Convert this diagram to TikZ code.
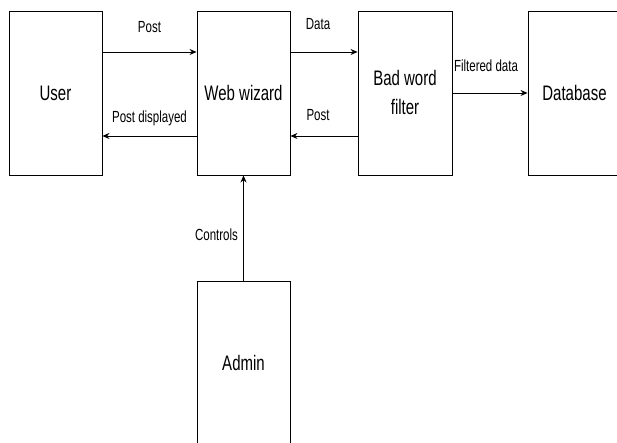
\documentclass[tikz,border=0pt]{standalone}
\usepackage{fontspec}
\usepackage{graphicx}
\setmainfont{Liberation Sans}
\usetikzlibrary{arrows.meta}
\newcommand{\tall}[1]{\scalebox{1}[1.4]{#1}}
\begin{document}
\begin{tikzpicture}[
  x=1pt, y=1pt,
  block/.style={rectangle, draw, line width=0.9pt, minimum width=93pt, minimum height=164pt,
    font=\fontsize{15}{29}\selectfont, align=center, inner sep=0pt},
  flow/.style={-{Stealth[length=7pt,width=6pt]}, line width=0.8pt},
  tag/.style={font=\fontsize{11.5}{13}\selectfont, inner sep=0pt}
]
  \useasboundingbox (0,0) rectangle (617,443);
  \node[block] (user) at (55.5,350) {\tall{User}};
  \node[block] (wizard) at (243.5,350) {\tall{Web wizard}};
  \node[block, minimum width=94pt] (filter) at (405,350) {\tall{Bad word}\\\tall{filter}};
  \node[block] (db) at (574.5,350) {\tall{Database}};
  \node[block] (admin) at (243.5,80) {\tall{Admin}};

  \draw[flow] ([yshift=41pt]user.east) -- node[tag, midway, yshift=25pt] {\tall{Post}} ([yshift=41pt]wizard.west);
  \draw[flow] ([yshift=-43pt]wizard.west) -- node[tag, midway, yshift=18pt] {\tall{Post displayed}} ([yshift=-43pt]user.east);
  \draw[flow] ([yshift=41pt]wizard.east) -- node[tag, midway, xshift=-6pt, yshift=28pt] {\tall{Data}} ([yshift=41pt]filter.west);
  \draw[flow] ([yshift=-43pt]filter.west) -- node[tag, midway, xshift=-6pt, yshift=21pt] {\tall{Post}} ([yshift=-43pt]wizard.east);
  \draw[flow] (filter.east) -- node[tag, midway, xshift=-4pt, yshift=27pt] {\tall{Filtered data}} (db.west);
  \draw[flow] (admin.north) -- node[tag, midway, xshift=-27pt, yshift=-7pt] {\tall{Controls}} (wizard.south);
\end{tikzpicture}
\end{document}
